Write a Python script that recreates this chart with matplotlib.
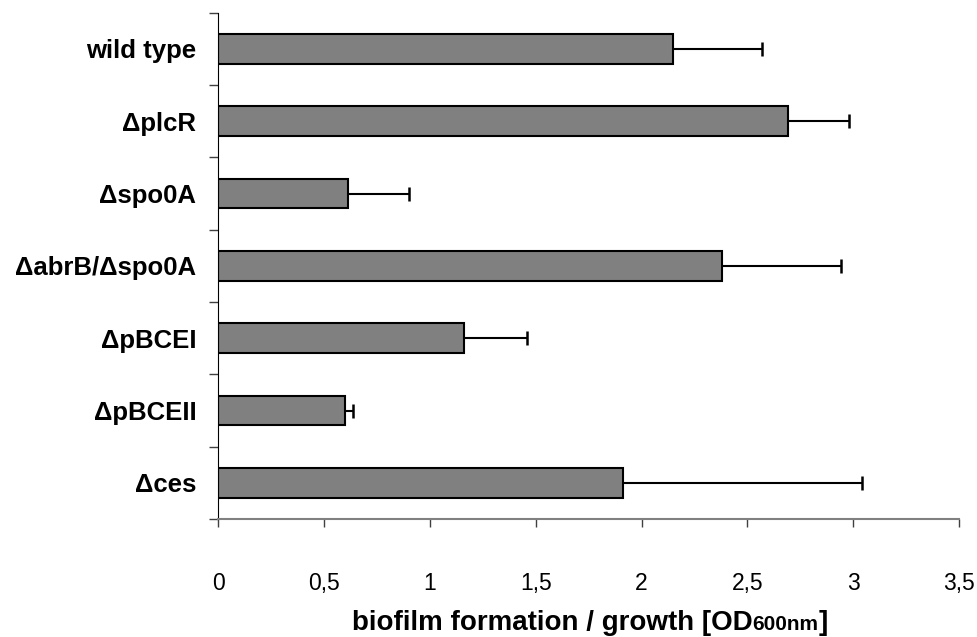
import numpy as np
import matplotlib.pyplot as plt
from matplotlib.offsetbox import TextArea, HPacker, AnnotationBbox

plt.rcParams['font.family'] = ['Liberation Sans', 'DejaVu Sans']

# -----------------------
# DATA
# -----------------------
strains = ['wild type', 'ΔplcR', 'Δspo0A', 'ΔabrB/Δspo0A', 'ΔpBCEI', 'ΔpBCEII', 'Δces']
values = [2.15, 2.69, 0.61, 2.38, 1.16, 0.60, 1.91]
errors = [0.42, 0.29, 0.29, 0.56, 0.30, 0.035, 1.13]
xticks = [0, 0.5, 1, 1.5, 2, 2.5, 3, 3.5]
xtick_labels = ['0', '0,5', '1', '1,5', '2', '2,5', '3', '3,5']

# -----------------------
# PLOT
# -----------------------
fig = plt.figure(figsize=(9.78, 6.37), dpi=100)
ax = fig.add_axes([0.2234, 0.1852, 0.9806 - 0.2234, 0.980 - 0.1852])

y = np.arange(len(strains))
ax.barh(y, values, height=0.41, color='#808080', edgecolor='black', linewidth=1.5, zorder=2)
eb = ax.errorbar(values, y, xerr=[np.zeros(len(errors)), errors], fmt='none',
                 ecolor='black', elinewidth=1.5, capsize=5, capthick=1.8, zorder=3)
# only the upper cap, as in the one-sided bars
eb[1][0].set_visible(False)

ax.set_xlim(0, 3.5)
ax.set_ylim(len(strains) - 0.5, -0.5)

ax.set_xticks(xticks)
ax.set_xticklabels(xtick_labels, fontsize=16.5)
ax.set_yticks(y)
ax.set_yticklabels(strains, fontsize=18.5, fontweight='bold')
ax.tick_params(axis='y', length=0, pad=16)
ax.set_yticks(np.arange(len(strains) + 1) - 0.5, minor=True)
ax.tick_params(axis='y', which='minor', length=6.5, width=1, color='#404040')
ax.tick_params(axis='x', length=6, width=1, color='#404040', pad=32)

for s in ['top', 'right']:
    ax.spines[s].set_visible(False)
ax.spines['left'].set_color('black')
ax.spines['bottom'].set_color('#808080')
ax.spines['bottom'].set_linewidth(1.5)

# x label with smaller "600nm"
parts = HPacker(children=[
    TextArea('biofilm formation / growth [OD', textprops=dict(fontsize=20, fontweight='bold')),
    TextArea('600nm', textprops=dict(fontsize=15, fontweight='bold')),
    TextArea(']', textprops=dict(fontsize=20, fontweight='bold')),
], align='baseline', pad=0, sep=0)
ab = AnnotationBbox(parts, (590 / 978, 1 - 623 / 637), xycoords='figure fraction',
                    frameon=False, box_alignment=(0.5, 0.5))
fig.add_artist(ab)

fig.savefig('out.png', dpi=100)
